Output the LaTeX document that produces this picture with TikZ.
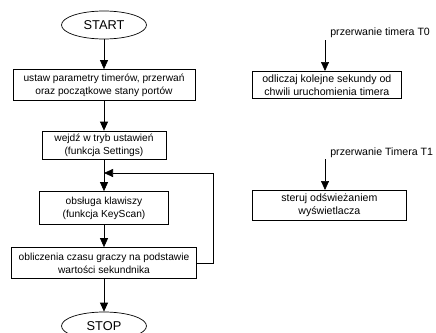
\documentclass[tikz,border=0pt]{standalone}
\usepackage{fontspec}
\setmainfont{Liberation Sans}
\usetikzlibrary{positioning,shapes.geometric,arrows.meta}

\begin{document}
\begin{tikzpicture}[x=1pt, y=-1pt, line width=0.7pt,
  every node/.style={font=\fontsize{10.2}{13}\selectfont},
  side/.style={font=\fontsize{10.6}{13}\selectfont},
  block/.style={draw, rectangle, align=center, inner sep=0pt, minimum height=30pt},
  terminal/.style={draw, ellipse, inner sep=0pt, minimum width=85pt, minimum height=28pt, font=\fontsize{12.8}{14}\selectfont},
  flow/.style={-{Triangle[length=9pt,width=8pt]}}]
  \def\xmain{104}
  \useasboundingbox (0,0) rectangle (436,332);
  % Start
  \node [terminal] (start) at (\xmain,25) {START};
  % Init
  \node [block, minimum width=182pt, minimum height=31pt] (init) at (\xmain,85) {ustaw parametry timerów, przerwań\\oraz początkowe stany portów};
  % Settings
  \node [block, minimum width=124pt, minimum height=28pt] (settings) at (\xmain,145) {wejdź w tryb ustawień\\(funkcja Settings)};
  % KeyScan
  \node [block, minimum width=129pt, minimum height=33pt] (keyscan) at (\xmain,208) {obsługa klawiszy\\(funkcja KeyScan)};
  % Time calc
  \node [block, minimum width=185pt, minimum height=31pt] (calc) at (\xmain,263) {obliczenia czasu graczy na podstawie\\wartości sekundnika};
  % Stop
  \node [terminal] (stop) at (\xmain,326) {STOP};

  \draw [flow] (start) -- (init);
  \draw [flow] (init) -- (settings);
  \draw [flow] (settings) -- (keyscan);
  \draw [flow] (keyscan) -- (calc);
  \draw [flow] (calc) -- (stop);
  % Loop back
  \coordinate (loop corner) at (213,173);
  \coordinate (loop end) at (\xmain,173);
  \draw [flow] (calc.east) -| (loop corner) -- (loop end);

  % Timer T0
  \node [side, anchor=west, inner sep=0pt] (t0 label) at (330,33) {przerwanie timera T0};
  \coordinate (t0 in) at (325,40);
  \node [block, side, minimum width=149pt, minimum height=27pt, anchor=north west] (t0 box) at (252,71) {odliczaj kolejne sekundy od\\chwili uruchomienia timera};
  \draw [flow] (t0 in) -- (t0 in |- t0 box.north);
  % Timer T1
  \node [side, anchor=west, inner sep=0pt] (t1 label) at (330,153) {przerwanie Timera T1};
  \coordinate (t1 in) at (325,159);
  \node [block, side, minimum width=154pt, minimum height=30pt, anchor=north west] (t1 box) at (252,190) {steruj odświeżaniem\\wyświetlacza};
  \draw [flow] (t1 in) -- (t1 in |- t1 box.north);
\end{tikzpicture}
\end{document}
